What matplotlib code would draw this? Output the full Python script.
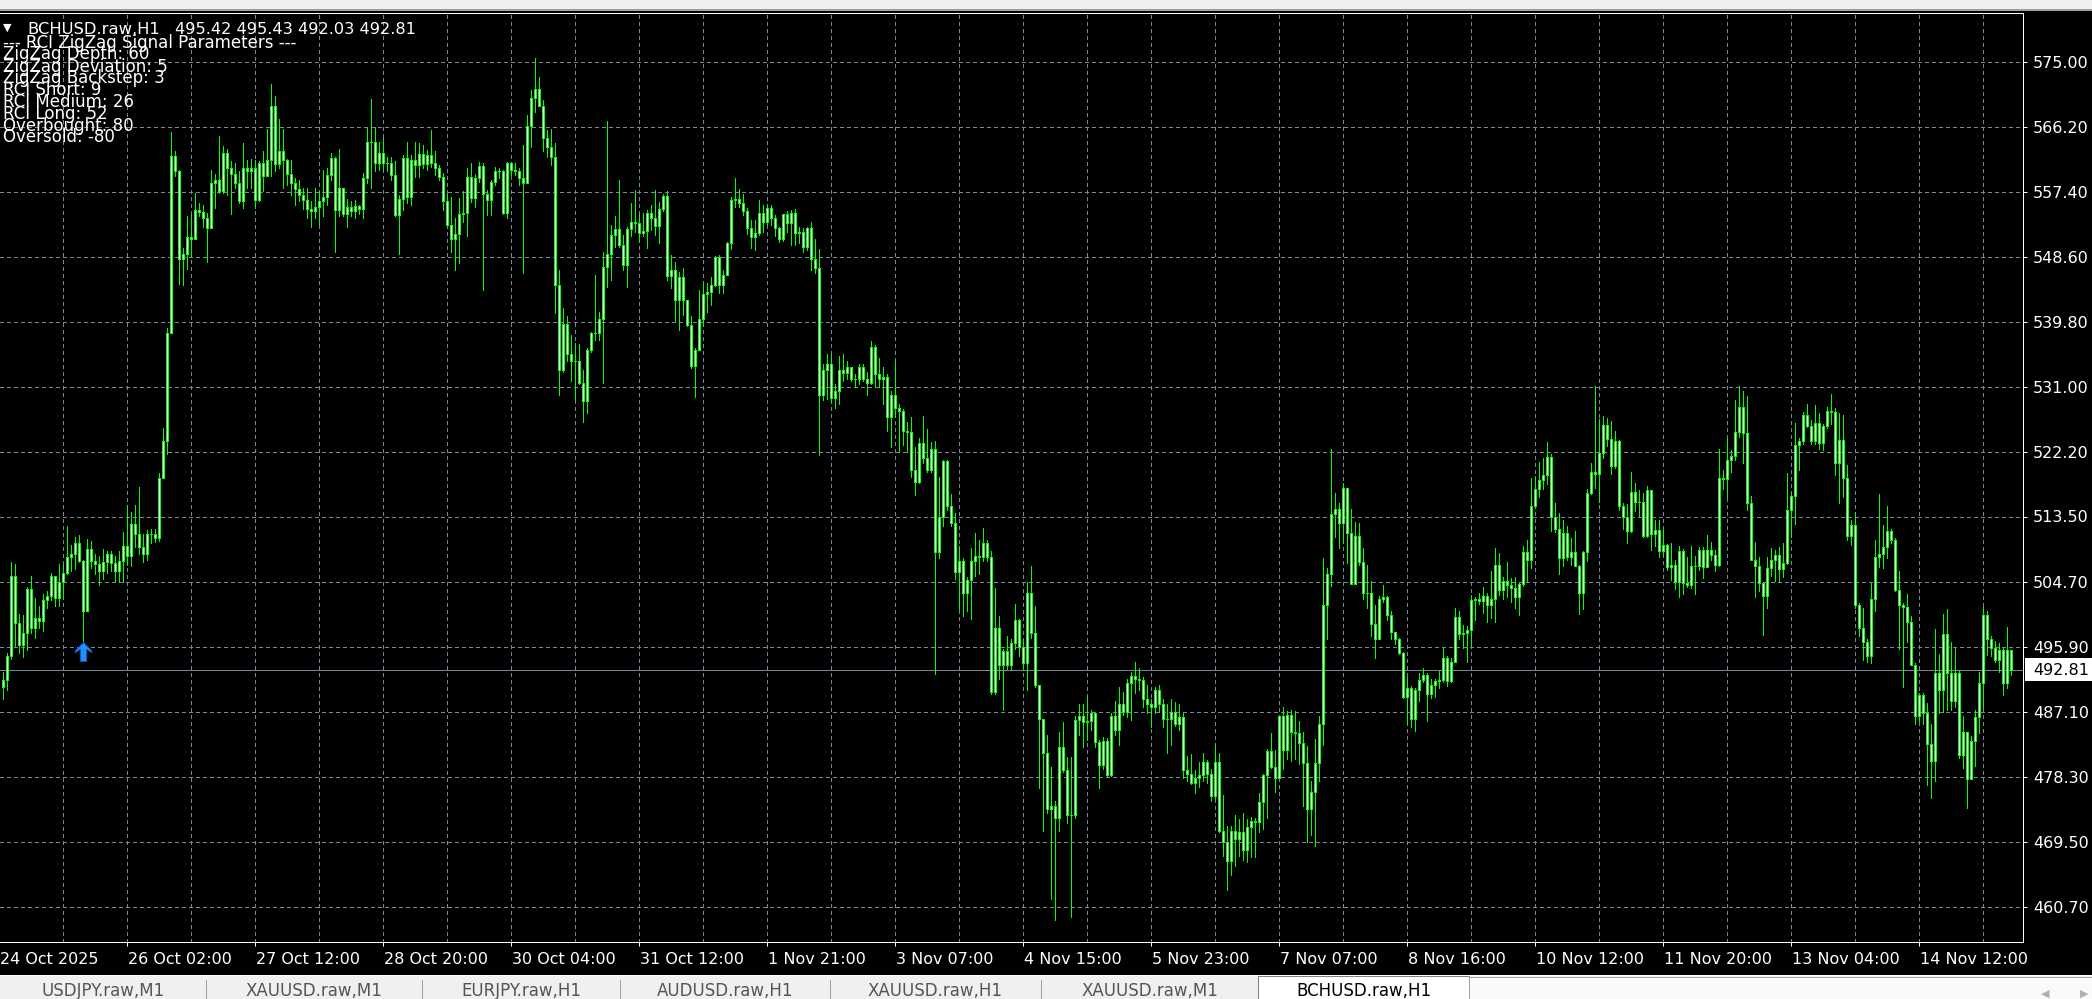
import matplotlib
matplotlib.use("Agg")
import matplotlib.pyplot as plt
import numpy as np
from matplotlib.patches import Rectangle
from matplotlib.path import Path
from matplotlib.transforms import blended_transform_factory, offset_copy

W, H = 2092, 999

# ---- data (H1 bars, oldest first) ----
first_open = 490.4
closes = [
    491.4, 494.6, 505.5, 499.1, 496.2, 497.7, 503.7, 498.5, 499.8, 499.4,
    502.2, 502.8, 505.5, 502.5, 504.7, 505.9, 508.1, 508.5, 509.9, 507.5,
    500.8, 509.1, 507.5, 507.1, 506.1, 507.4, 508.5, 507.2, 506.2, 507.5,
    509.5, 508.2, 512.5, 511.1, 509.4, 508.5, 511.2, 511.1, 510.6, 518.8,
    523.8, 538.4, 562.3, 560.2, 548.3, 549.0, 551.3, 551.1, 555.0, 554.7,
    553.9, 552.6, 558.7, 559.1, 557.6, 562.7, 560.7, 559.9, 558.6, 556.2,
    560.7, 560.3, 560.6, 556.3, 561.4, 559.6, 561.8, 569.0, 561.2, 563.0,
    561.8, 559.9, 558.6, 557.8, 557.0, 556.3, 555.1, 554.9, 555.4, 556.2,
    556.7, 559.7, 562.0, 555.0, 557.9, 554.5, 555.4, 554.9, 555.5, 555.1,
    559.3, 564.2, 564.2, 561.3, 562.7, 561.3, 561.4, 559.7, 554.3, 556.5,
    562.0, 556.7, 561.7, 561.1, 562.6, 561.2, 562.4, 561.4, 560.6, 559.4,
    556.2, 553.0, 551.1, 551.8, 554.4, 554.6, 559.5, 556.6, 559.3, 560.9,
    557.1, 556.4, 558.8, 560.3, 560.3, 554.6, 561.3, 560.4, 560.3, 559.3,
    558.7, 566.3, 570.1, 571.3, 569.0, 564.7, 563.5, 562.1, 544.8, 533.4,
    539.6, 535.5, 534.6, 534.5, 531.6, 529.1, 536.1, 538.3, 538.4, 540.3,
    547.3, 549.0, 551.6, 552.4, 550.2, 547.5, 552.4, 553.3, 553.2, 551.9,
    552.1, 554.6, 553.9, 552.8, 555.1, 556.9, 546.0, 546.8, 542.8, 545.9,
    542.8, 539.4, 533.9, 536.1, 540.2, 543.6, 543.9, 544.8, 548.6, 544.8,
    546.2, 550.5, 556.4, 556.5, 555.9, 554.8, 552.6, 551.3, 551.9, 554.6,
    553.4, 555.3, 553.9, 552.5, 551.0, 554.4, 553.2, 554.6, 551.9, 552.0,
    550.0, 552.5, 548.3, 547.1, 530.0, 533.4, 534.1, 529.6, 530.5, 533.3,
    533.0, 533.7, 532.1, 532.1, 533.7, 532.1, 531.6, 536.4, 532.8, 532.1,
    532.4, 527.0, 530.0, 528.2, 527.8, 525.1, 524.9, 519.8, 518.2, 523.4,
    521.5, 519.8, 522.7, 508.7, 513.5, 521.0, 515.0, 512.6, 506.0, 507.5,
    503.2, 505.0, 507.5, 508.2, 508.1, 509.9, 508.0, 489.8, 498.5, 493.4,
    495.3, 493.5, 496.4, 499.5, 495.9, 493.7, 503.2, 497.8, 490.8, 486.2,
    481.6, 473.9, 474.3, 472.7, 482.3, 479.2, 473.1, 473.1, 486.0, 486.6,
    485.7, 485.9, 486.9, 483.0, 479.9, 483.2, 478.5, 486.6, 484.7, 488.2,
    487.1, 491.0, 492.0, 491.5, 491.4, 488.9, 488.1, 487.7, 490.1, 488.2,
    486.2, 486.1, 487.1, 485.5, 486.4, 479.2, 478.7, 477.5, 478.2, 478.5,
    480.3, 478.7, 475.7, 480.3, 471.0, 469.5, 466.9, 471.0, 469.9, 470.9,
    468.4, 471.5, 472.4, 472.2, 474.9, 478.6, 481.8, 479.7, 478.2, 486.6,
    482.0, 486.7, 484.4, 484.3, 482.9, 480.2, 474.0, 476.3, 480.2, 485.4,
    501.5, 505.8, 513.8, 514.5, 512.7, 517.4, 511.3, 504.4, 510.9, 507.4,
    503.2, 503.2, 499.0, 496.9, 502.4, 502.7, 500.2, 497.9, 497.0, 495.0,
    489.1, 490.3, 486.2, 490.0, 491.4, 492.1, 489.5, 490.8, 491.3, 491.4,
    494.4, 491.3, 493.9, 499.9, 497.6, 497.8, 498.2, 502.2, 502.3, 502.1,
    502.8, 501.5, 502.3, 507.0, 503.6, 504.8, 504.2, 503.9, 502.7, 504.4,
    508.7, 507.7, 514.9, 517.2, 518.5, 519.2, 521.6, 513.5, 511.9, 507.9,
    511.3, 508.1, 508.7, 506.8, 503.2, 508.7, 516.7, 519.5, 519.3, 522.1,
    525.9, 524.0, 520.3, 523.8, 515.0, 513.5, 511.5, 516.9, 515.5, 515.5,
    510.9, 517.1, 511.2, 511.7, 508.9, 509.7, 506.7, 507.0, 504.6, 508.8,
    504.5, 504.3, 506.8, 506.8, 509.0, 506.7, 509.0, 508.3, 507.0, 518.8,
    518.6, 521.1, 521.7, 525.0, 528.3, 524.8, 515.4, 507.7, 506.8, 504.5,
    502.8, 506.5, 507.7, 508.3, 506.4, 507.3, 514.4, 516.3, 523.2, 523.8,
    527.3, 525.8, 523.8, 526.2, 523.4, 525.8, 527.8, 527.7, 520.8, 523.9,
    518.7, 510.9, 512.4, 501.6, 498.4, 496.5, 494.7, 502.3, 508.0, 508.5,
    509.4, 511.5, 510.4, 503.6, 501.6, 501.3, 499.2, 493.4, 486.5, 489.4,
    486.9, 482.8, 480.5, 492.3, 490.0, 497.6, 492.3, 488.6, 492.4, 481.3,
    484.4, 478.0, 483.1, 486.4, 491.0, 500.2, 497.0, 495.8, 494.1, 495.5,
    491.0, 495.42, 492.81,
]
highs = [
    492.5, 495.1, 507.4, 507.1, 500.4, 500.2, 504.0, 505.5, 502.5, 501.4,
    503.1, 503.4, 505.9, 504.2, 507.1, 507.1, 512.3, 509.7, 510.8, 511.0,
    507.7, 510.5, 510.2, 508.5, 508.2, 509.1, 508.8, 508.8, 508.2, 508.8,
    511.4, 515.1, 514.2, 515.1, 517.5, 511.1, 511.7, 511.9, 511.8, 519.4,
    525.5, 539.0, 565.6, 563.0, 560.4, 549.9, 554.2, 554.5, 557.3, 555.9,
    555.6, 554.6, 560.4, 559.9, 565.0, 563.6, 563.3, 561.6, 561.3, 560.2,
    564.0, 561.8, 561.9, 561.8, 561.6, 563.0, 566.0, 572.0, 570.4, 567.3,
    565.9, 561.9, 561.8, 559.3, 559.0, 558.0, 557.9, 556.2, 558.0, 557.6,
    560.4, 560.7, 562.7, 562.2, 563.3, 557.9, 556.5, 556.2, 556.3, 555.7,
    560.0, 566.2, 570.0, 566.2, 564.2, 564.7, 562.2, 562.2, 561.6, 557.0,
    562.4, 564.2, 562.4, 564.2, 564.0, 563.8, 563.1, 565.8, 562.9, 561.1,
    560.0, 557.2, 556.8, 553.9, 556.6, 557.5, 560.6, 561.3, 559.9, 561.5,
    561.3, 557.7, 559.0, 560.8, 560.6, 560.4, 561.5, 561.5, 561.3, 560.6,
    563.8, 567.8, 571.2, 575.5, 573.0, 569.9, 565.8, 566.0, 564.1, 546.9,
    541.7, 540.6, 538.1, 537.0, 536.9, 533.3, 536.3, 538.5, 546.2, 541.2,
    549.3, 567.0, 553.0, 554.2, 559.1, 551.6, 552.7, 555.9, 557.7, 554.5,
    554.6, 555.0, 555.7, 557.7, 556.1, 557.2, 557.5, 548.9, 548.0, 546.6,
    547.1, 542.4, 540.6, 536.3, 544.2, 545.1, 545.1, 545.9, 548.7, 548.9,
    546.9, 550.7, 556.8, 559.3, 557.8, 557.2, 555.2, 553.6, 553.6, 556.4,
    555.7, 555.8, 555.7, 554.3, 552.7, 554.5, 554.8, 555.0, 555.1, 552.7,
    552.5, 552.7, 553.3, 551.1, 549.7, 534.2, 535.5, 535.5, 531.4, 535.2,
    535.5, 534.5, 533.8, 532.8, 534.1, 534.1, 533.1, 537.2, 536.7, 535.0,
    533.7, 532.8, 530.5, 534.5, 528.7, 528.0, 526.3, 527.0, 522.9, 524.2,
    527.1, 525.3, 523.6, 523.7, 518.8, 521.2, 521.2, 516.6, 514.0, 509.6,
    507.9, 505.3, 509.2, 511.3, 510.3, 512.0, 510.3, 508.9, 503.9, 500.0,
    495.6, 497.3, 497.0, 501.7, 499.7, 497.0, 504.6, 506.8, 501.4, 490.8,
    486.2, 484.0, 479.6, 475.1, 484.4, 485.7, 481.0, 481.0, 486.6, 488.1,
    488.2, 489.1, 487.3, 487.1, 483.3, 483.7, 483.5, 486.9, 488.6, 490.5,
    489.8, 491.6, 492.5, 493.9, 493.0, 491.8, 490.7, 488.8, 490.5, 490.8,
    488.8, 488.1, 488.9, 488.4, 488.1, 486.9, 481.1, 481.4, 479.2, 480.3,
    481.6, 480.6, 479.4, 482.6, 481.6, 475.8, 471.7, 471.7, 473.1, 472.6,
    473.4, 472.6, 472.9, 472.7, 476.1, 478.7, 482.1, 484.3, 481.9, 486.7,
    487.7, 487.2, 487.4, 487.2, 485.8, 484.4, 482.5, 477.8, 483.4, 486.6,
    507.9, 506.5, 522.6, 516.7, 515.3, 518.0, 514.4, 514.5, 512.8, 512.7,
    509.3, 506.9, 504.8, 501.5, 502.8, 504.2, 502.8, 500.8, 497.9, 497.1,
    495.2, 491.8, 490.6, 490.3, 492.3, 493.0, 492.3, 491.6, 491.5, 492.6,
    495.7, 494.7, 494.4, 501.2, 500.8, 498.9, 498.7, 502.9, 502.7, 503.2,
    504.0, 503.2, 506.1, 509.2, 508.6, 505.3, 507.4, 505.2, 505.3, 504.6,
    509.5, 510.4, 518.7, 519.0, 520.9, 521.5, 523.6, 522.0, 515.3, 514.0,
    513.1, 512.3, 510.6, 511.6, 507.0, 508.9, 517.2, 520.7, 531.2, 526.7,
    527.1, 526.8, 526.5, 525.1, 523.9, 515.3, 515.2, 519.5, 518.0, 517.1,
    516.7, 517.6, 517.1, 513.1, 513.1, 511.8, 509.8, 510.0, 507.7, 509.5,
    509.1, 508.1, 509.5, 508.2, 509.4, 509.4, 511.0, 510.1, 509.0, 522.7,
    519.8, 524.1, 522.5, 529.3, 531.2, 530.5, 529.8, 516.3, 510.1, 508.1,
    504.6, 508.0, 509.2, 509.0, 509.4, 510.0, 519.4, 516.8, 526.2, 524.1,
    527.7, 528.8, 526.6, 528.6, 527.5, 526.1, 528.3, 530.1, 528.2, 527.5,
    527.3, 520.5, 513.1, 514.2, 501.8, 501.2, 497.0, 504.5, 510.4, 516.6,
    512.4, 514.9, 511.9, 510.6, 506.2, 501.8, 503.1, 500.1, 493.7, 489.7,
    489.6, 488.3, 485.5, 498.3, 494.9, 500.3, 501.0, 496.5, 495.7, 492.8,
    486.5, 483.1, 483.8, 487.4, 492.5, 501.3, 500.8, 497.4, 496.7, 496.4,
    495.7, 498.6, 495.43,
]
lows = [
    488.8, 490.0, 494.2, 496.0, 495.0, 494.5, 495.4, 497.7, 497.1, 498.5,
    498.0, 501.1, 502.2, 501.4, 501.4, 502.5, 505.7, 506.2, 506.4, 507.4,
    496.6, 505.4, 506.5, 505.7, 504.2, 505.1, 505.9, 506.2, 504.8, 504.7,
    504.7, 507.0, 506.8, 509.4, 508.5, 507.4, 507.7, 509.9, 510.1, 510.2,
    520.5, 522.0, 538.6, 559.6, 545.0, 544.8, 547.0, 548.7, 551.0, 554.2,
    552.7, 547.9, 552.5, 555.3, 557.3, 557.3, 557.0, 554.5, 557.9, 555.9,
    555.3, 557.9, 557.9, 555.3, 556.2, 557.6, 559.6, 559.6, 560.2, 560.7,
    557.9, 558.4, 557.0, 555.6, 556.2, 555.1, 553.9, 552.7, 553.9, 552.9,
    554.2, 555.6, 559.0, 549.3, 554.2, 554.2, 552.7, 554.2, 553.9, 554.5,
    553.9, 558.6, 557.9, 560.2, 560.4, 560.4, 560.2, 559.0, 554.2, 549.0,
    555.0, 555.9, 555.7, 559.5, 559.5, 560.6, 560.4, 560.8, 559.7, 559.0,
    555.0, 553.0, 549.3, 546.9, 547.8, 553.4, 551.4, 556.1, 555.4, 558.8,
    544.2, 554.3, 554.3, 558.4, 559.3, 554.5, 553.9, 559.7, 559.7, 558.4,
    546.5, 558.6, 563.5, 568.3, 569.0, 562.9, 562.2, 561.1, 541.0, 530.0,
    533.1, 534.5, 531.8, 529.3, 531.5, 526.3, 527.5, 535.8, 537.4, 537.4,
    531.6, 544.6, 545.5, 550.0, 550.0, 546.9, 544.6, 551.4, 552.0, 550.6,
    551.4, 549.9, 552.3, 551.6, 550.5, 554.8, 545.5, 544.4, 540.0, 538.8,
    540.8, 539.3, 533.6, 529.7, 537.2, 539.3, 541.2, 542.1, 544.7, 543.7,
    543.7, 546.2, 549.7, 555.4, 555.4, 554.3, 551.8, 549.9, 549.6, 551.6,
    552.0, 553.0, 553.0, 551.4, 550.7, 550.8, 552.0, 550.2, 550.2, 550.5,
    549.3, 549.6, 546.9, 546.4, 521.8, 529.3, 529.4, 529.0, 528.2, 528.7,
    531.8, 532.1, 531.8, 531.1, 531.4, 531.8, 530.0, 531.4, 531.1, 531.1,
    528.7, 525.1, 522.9, 527.0, 522.2, 523.2, 522.2, 518.8, 516.4, 518.1,
    520.8, 519.5, 519.5, 492.2, 507.9, 512.3, 514.4, 512.3, 505.1, 501.0,
    500.0, 500.7, 499.7, 505.5, 505.8, 507.5, 507.5, 489.5, 489.5, 491.5,
    487.4, 492.9, 492.9, 495.6, 494.6, 492.9, 490.1, 497.1, 490.5, 476.8,
    471.0, 473.4, 461.8, 458.9, 471.0, 478.9, 472.1, 459.4, 472.7, 484.0,
    482.3, 483.3, 484.7, 482.3, 476.8, 479.4, 478.4, 478.4, 484.0, 482.6,
    486.7, 486.4, 486.0, 489.6, 490.1, 487.7, 486.9, 485.0, 486.9, 487.1,
    485.0, 481.6, 482.6, 485.2, 484.7, 478.2, 477.8, 477.3, 476.1, 477.0,
    477.8, 477.5, 475.1, 475.5, 470.9, 467.6, 463.0, 465.0, 466.2, 467.6,
    467.1, 466.8, 467.4, 467.5, 470.8, 471.2, 472.8, 479.5, 476.2, 478.1,
    479.4, 480.7, 480.5, 480.7, 480.0, 474.4, 469.5, 470.5, 468.9, 477.8,
    482.6, 497.0, 504.1, 510.8, 509.2, 509.9, 507.3, 504.4, 504.4, 507.0,
    502.4, 501.1, 497.3, 494.4, 497.6, 501.9, 499.5, 496.9, 496.3, 494.9,
    489.0, 485.5, 485.0, 484.5, 488.6, 491.1, 485.8, 489.0, 489.1, 490.3,
    491.2, 490.6, 491.2, 496.8, 497.0, 495.8, 493.9, 496.0, 499.5, 501.7,
    500.5, 499.3, 499.8, 499.2, 502.9, 502.4, 502.7, 501.9, 501.1, 500.2,
    504.1, 504.8, 506.6, 514.8, 516.2, 517.2, 517.9, 511.5, 511.4, 505.8,
    506.8, 507.7, 507.0, 506.8, 500.3, 501.0, 507.5, 516.6, 517.4, 515.5,
    521.5, 523.1, 519.3, 520.1, 514.4, 511.9, 509.9, 511.4, 514.3, 513.5,
    510.8, 510.8, 509.0, 509.5, 508.1, 508.3, 506.3, 504.9, 503.7, 502.6,
    503.1, 504.0, 503.9, 503.0, 506.3, 505.2, 506.7, 507.6, 506.1, 506.8,
    517.3, 516.2, 519.6, 521.2, 524.3, 520.8, 514.4, 507.6, 502.6, 503.5,
    497.5, 501.2, 505.5, 504.8, 504.7, 505.3, 507.1, 510.8, 512.5, 519.8,
    523.3, 525.6, 523.3, 523.3, 522.7, 522.5, 525.5, 526.1, 519.1, 515.3,
    516.2, 510.4, 509.7, 501.2, 497.3, 494.1, 493.9, 493.7, 500.8, 506.7,
    506.5, 507.9, 509.9, 503.5, 495.6, 490.5, 496.5, 493.4, 485.5, 485.8,
    485.5, 477.2, 475.4, 477.7, 487.0, 487.1, 487.4, 487.4, 487.8, 480.8,
    479.5, 474.1, 478.1, 479.8, 484.2, 487.8, 494.8, 494.7, 493.8, 492.5,
    489.4, 490.3, 492.03,
]

price_ticks = [460.70, 469.50, 478.30, 487.10, 495.90, 504.70, 513.50,
               522.20, 531.00, 539.80, 548.60, 557.40, 566.20, 575.00]
time_bars = [-1, 31, 63, 95, 127, 159, 191, 223, 255, 287, 319, 351, 383, 415, 447, 479]
time_labels = ["24 Oct 2025", "26 Oct 02:00", "27 Oct 12:00", "28 Oct 20:00",
               "30 Oct 04:00", "31 Oct 12:00", "1 Nov 21:00", "3 Nov 07:00",
               "4 Nov 15:00", "5 Nov 23:00", "7 Nov 07:00", "8 Nov 16:00",
               "10 Nov 12:00", "11 Nov 20:00", "13 Nov 04:00", "14 Nov 12:00"]
signal_bars = [20]
signal_prices = [496.6]

symbol = "BCHUSD.raw,H1"
quote = "495.42 495.43 492.03 492.81"
param_lines = ["--- RCI ZigZag Signal Parameters ---", "ZigZag Depth: 60",
               "ZigZag Deviation: 5", "ZigZag Backstep: 3", "RCI Short: 9",
               "RCI Medium: 26", "RCI Long: 52", "Overbought: 80", "Oversold: -80"]
tab_names = ["USDJPY.raw,M1", "XAUUSD.raw,M1", "EURJPY.raw,H1", "AUDUSD.raw,H1",
             "XAUUSD.raw,H1", "XAUUSD.raw,M1", "BCHUSD.raw,H1"]


def fx(px):
    return px / W


def fy(py):
    return 1 - py / H


def rect_px(x0, y0, x1, y1, **kw):
    fig.patches.append(Rectangle((fx(x0), fy(y1)), (x1 - x0) / W, (y1 - y0) / H,
                                 transform=fig.transFigure, **kw))


GREEN = "#00FF00"
GRID = "#778899"
LW = 0.72  # one pixel
FONT = "DejaVu Sans"

fig = plt.figure(figsize=(W / 100, H / 100), dpi=100, facecolor="black")
ax = fig.add_axes([0, fy(942), 2023 / W, (942 - 13) / H])
ax.set_facecolor("black")

n = len(closes)
x = np.arange(n)
c = np.array(closes)
o = np.array([first_open] + closes[:-1])
hi = np.maximum(np.array(highs), np.maximum(o, c))
lo = np.minimum(np.array(lows), np.minimum(o, c))

ax.set_xlim(-0.833, 504.92)
ax.set_ylim(455.97, 581.63)

# grid
for b in range(15, 505, 16):
    ax.axvline(b, color=GRID, lw=LW, ls=(0, (3, 3)), antialiased=False, zorder=1)
for p in price_ticks:
    ax.axhline(p, color=GRID, lw=LW, ls=(0, (3, 3)), antialiased=False, zorder=1)

# bid line
ax.axhline(closes[-1], color=GRID, lw=LW, antialiased=False, zorder=2)

# candles: lime outline, light body
ax.vlines(x, lo, hi, color=GREEN, lw=LW, antialiased=False, zorder=3)
ax.bar(x, np.abs(c - o), bottom=np.minimum(o, c), width=0.5, color="white",
       edgecolor=GREEN, linewidth=LW, antialiased=False, zorder=4)

# signal arrow
arrow = Path([(0, 0), (0.44, -0.44), (0.44, -0.54), (0.17, -0.36), (0.17, -1),
              (-0.17, -1), (-0.17, -0.36), (-0.44, -0.54), (-0.44, -0.44), (0, 0)])
ax.plot(signal_bars, signal_prices, ls="none", marker=arrow, markersize=27.4,
        color="#1E90FF", markeredgecolor="#0A50B0", markeredgewidth=0.6, zorder=5)

# frame
for side in ["top", "right", "bottom"]:
    ax.spines[side].set_color("white")
    ax.spines[side].set_linewidth(LW)
ax.spines["left"].set_visible(False)
ax.set_xticks([])
ax.set_yticks([])

# price scale
ty = blended_transform_factory(fig.transFigure, ax.transData)
ax.hlines(price_ticks, 2023 / W, 2027 / W, transform=ty, color="white", lw=LW, clip_on=False)
lab_tr = offset_copy(ty, fig=fig, y=-5.8 * 0.72, units="points")
for p in price_ticks:
    ax.text(2033 / W, p, f"{p:.2f}", transform=lab_tr, ha="left", va="baseline",
            color="white", fontsize=11.5, family=FONT, clip_on=False)

# bid label
half = (581.63 - 455.97) / 929 * 11.5
ax.add_patch(Rectangle((2025 / W, closes[-1] - half), (W - 2025) / W, 2 * half,
                       transform=ty, facecolor="white", edgecolor="none", clip_on=False))
ax.text(2033 / W, closes[-1], f"{closes[-1]:.2f}", transform=lab_tr, ha="left",
        va="baseline", color="black", fontsize=11.5, family=FONT, clip_on=False)

# time scale
tx = blended_transform_factory(ax.transData, fig.transFigure)
ax.vlines(time_bars, fy(946), fy(942), transform=tx, color="white", lw=LW, clip_on=False)
for b, lab in zip(time_bars, time_labels):
    ax.text(b + 0.25, fy(963.5), lab, transform=tx, ha="left", va="baseline",
            color="white", fontsize=11.5, family=FONT, clip_on=False)

# header text
fig.text(fx(3), fy(31), "\u25bc", color="white", fontsize=8, va="baseline", family=FONT)
fig.text(fx(27), fy(34.3), symbol, color="white", fontsize=11.8, va="baseline", family=FONT)
fig.text(fx(175), fy(34.3), quote, color="white", fontsize=11.6, va="baseline", family=FONT)
baselines = [48.3, 59.3, 71.7, 83.3, 95.0, 106.7, 119.0, 130.7, 142.3]
for line, bl in zip(param_lines, baselines):
    fig.text(fx(3), fy(bl), line, color="white", fontsize=12, va="baseline", family=FONT)

# window chrome: toolbar strip at top
rect_px(0, 0, W, 9, facecolor="#F0F0F0", edgecolor="none")
rect_px(0, 9, W, 11, facecolor="#A0A0A0", edgecolor="none")

# tab strip at bottom
rect_px(0, 975, W, H, facecolor="#F0F0F0", edgecolor="none")
rect_px(0, 975, W, 976, facecolor="#FFFFFF", edgecolor="none")
edges = [0, 206, 422, 620, 830, 1041, 1258, 1469]
for e in edges[1:-1]:
    rect_px(e, 980, e + 1, H, facecolor="#A0A0A0", edgecolor="none")
rect_px(1258, 976, 1469, H + 2, facecolor="white", edgecolor="#808080", linewidth=LW)
rect_px(1469, 977, W, H + 2, facecolor="#FAFAFA", edgecolor="#A0A0A0", linewidth=LW)
for i, name in enumerate(tab_names):
    active = i == len(tab_names) - 1
    fig.text(fx((edges[i] + edges[i + 1]) / 2), fy(995.5), name, ha="center", va="baseline",
             color="black" if active else "#555555", fontsize=12, family=FONT)
fig.text(fx(2045), fy(997), "\u25c0", color="#B0B0B0", fontsize=8, ha="center", va="baseline")
fig.text(fx(2084), fy(997), "\u25b6", color="#B0B0B0", fontsize=8, ha="center", va="baseline")

fig.savefig("out.png", dpi=100, facecolor="black")
